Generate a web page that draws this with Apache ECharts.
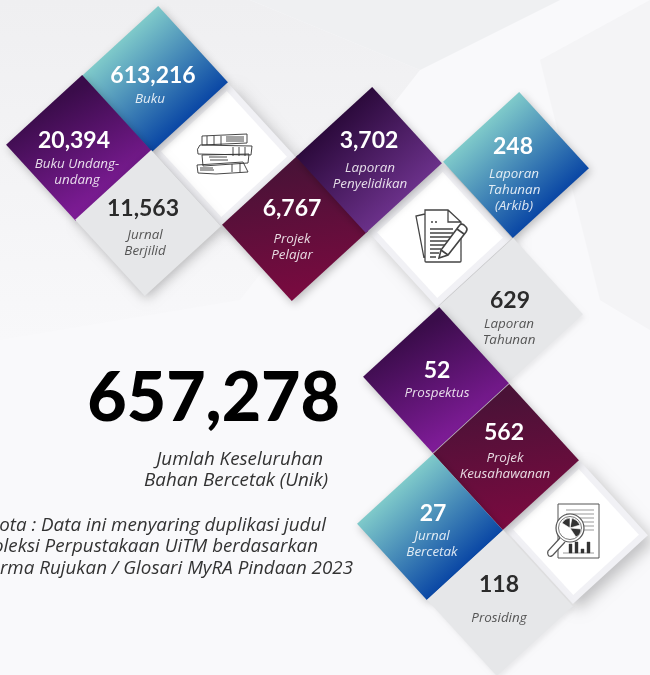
<!DOCTYPE html>
<html>
<head>
<meta charset="utf-8">
<style>
  html, body { margin: 0; padding: 0; background: #f9f9fb; overflow: hidden; }
  #main { width: 650px; height: 675px; }
</style>
<script src="https://cdn.jsdelivr.net/npm/echarts@6/dist/echarts.min.js"></script>
</head>
<body>
<div id="main"></div>
<script>
// data
const categories = ["Buku", "Buku Undang-\nundang", "Jurnal\nBerjilid", "Projek\nPelajar", "Laporan\nPenyelidikan",
  "Laporan\nTahunan\n(Arkib)", "Laporan\nTahunan", "Prospektus", "Projek\nKeusahawanan", "Jurnal\nBercetak", "Prosiding"];
const values = [613216, 20394, 11563, 6767, 3702, 248, 629, 52, 562, 27, 118];
const totalValue = 657278;
const totalLabel = ["Jumlah Keseluruhan", "Bahan Bercetak (Unik)"];
const noteLines = ["Nota : Data ini menyaring duplikasi judul", "Koleksi Perpustakaan UiTM berdasarkan", "Norma Rujukan / Glosari MyRA Pindaan 2023"];

// layout, same order as categories
const centers = [[155,79],[79,148],[148,223],[295,228],[369,160],[516,165],[510,311],[436,380],[506,457],[430,527],[500,603]];
const numberPos = [[153,76],[74,141],[143,209],[292,209],[369,141],[513,147],[510,301],[437,371],[504,433],[433,514],[499,585]];
const namePos = [[150,99],[77,172],[145,243],[292,247],[370,176],[514,190],[509,332],[437,393],[505,466],[432,544],[499,618]];
const kinds = ["blue","purple","grey","wine","violet","blue","grey","purple","wine","blue","grey"];
const whiteCenters = [[224,154],[440,235],[576,532]];

const fills = {
  blue: [0.25, 0.25, 0.75, 0.75, "#7fcaca", "#0a47a5"],
  purple: [0.3, 0.2, 0.7, 0.85, "#3a0c4a", "#7f1c98"],
  violet: [0.25, 0.25, 0.75, 0.75, "#2c0a3c", "#6a3089"],
  wine: [0.4, 0.1, 0.6, 1, "#4a1237", "#7c0a40"],
};

function gradient(kind) {
  if (kind === "grey") return "#e6e7e9";
  const c = fills[kind];
  return new echarts.graphic.LinearGradient(c[0], c[1], c[2], c[3], [
    { offset: 0, color: c[4] }, { offset: 1, color: c[5] },
  ]);
}

// line icons, one per white tile, drawn relative to the tile centre
const icons = [
  [
    { type: "path", shape: { pathData: "M-22 -18 L23 -20 L23 -11 L-22 -9 Z M-24 -9 L28 -8 L27 1 L-26 0 Q-28 -5 -24 -9 Z M-22 1 L25 0 L24 9 L-21 12 Z M-27 11 L19 8 L24 18 L-8 20 L-26 19 Z M-17 -18 V-9 M-10 -18 V-9 M-3 -18 V-9 M9 -7 V2 M15 -7 V2 M21 -7 V2 M8 10 V18 M16 9 V18 M2 -17 H20 M2 -15 H20 M2 -13 H20 M-24 14 H-11 M-24 16 H-10 M-15 3 H3 M-14 6 H4" },
      style: { fill: null, stroke: "#333", lineWidth: 0.9 } },
  ],
  [
    { type: "path", shape: { pathData: "M-15 -25 H8 L21 -13 V26 Q21 27 20 27 H-14 Q-15 27 -15 26 Z M8 -25 V-13 H21 M-15 -21 L-24 -19 L-16 23 M-9 -13 H-7 M-5 -13 H-3 M-10 -6 H13 M-10 -2 H13 M-10 2 H13 M-10 6 H9 M-10 10 H5 M-10 14 H1 M-10 18 H-1 M-10 22 H-4" },
      style: { fill: null, stroke: "#444", lineWidth: 1.3 } },
    { type: "path", shape: { pathData: "M-1 23 L1 15 L19 -9 Q21 -12 24 -10 L26 -8 Q28 -6 26 -3 L8 20 Z M17 -6 L24 -1 M1 15 L8 20" },
      style: { fill: "#fff", stroke: "#444", lineWidth: 1.6 } },
  ],
  [
    { type: "rect", shape: { x: -18, y: -28, width: 41, height: 54 }, style: { fill: "#fff", stroke: "#555", lineWidth: 1 } },
    { type: "path", shape: { pathData: "M-10 -22 H18 M-10 -18 H18 M4 -14 H18 M6 -10 H18 M8 -6 H18 M8 -2 H18 M-13 21 H18" }, style: { fill: null, stroke: "#999", lineWidth: 1 } },
    { type: "circle", shape: { cx: -6, cy: -4, r: 14 }, style: { fill: "#fff", stroke: "#555", lineWidth: 1.2 } },
    { type: "circle", shape: { cx: -6, cy: -4, r: 11.5 }, style: { fill: "#fff", stroke: "#555", lineWidth: 0.8 } },
    { type: "path", shape: { pathData: "M-6 -4 L-14 -9 Q-11 -14 -6 -14 Z M-6 -4 L-4 -14 Q2 -12 4 -7 Z M-6 -4 L5 -3 Q5 3 0 5 Z" }, style: { fill: "#333", stroke: "#fff", lineWidth: 0.6 } },
    { type: "path", shape: { pathData: "M-16 6 L-28 19 Q-29 22 -27 24 Q-25 25 -23 23 L-11 10" }, style: { fill: "#fff", stroke: "#555", lineWidth: 1.2 } },
    { type: "path", shape: { pathData: "M-7 12 H-4 V21 H-7 Z M-1 10 H2 V21 H-1 Z M5 17 H8 V21 H5 Z M11 10 H14 V21 H11 Z" }, style: { fill: "#333", stroke: "#333", lineWidth: 0.4 } },
  ],
];

const numberFont = "Lato";
const textFont = "Open Sans";
const chart = echarts.init(document.getElementById("main"));

function noteText(str, x, y) {
  return { type: "text", z: 20, x: x, y: y, style: { text: str, font: "italic 18.8px '" + textFont + "'", fill: "#333", textAlign: "right", textVerticalAlign: "middle" } };
}

const facetFill = new echarts.graphic.LinearGradient(0, 0, 0, 1, [
  { offset: 0, color: "#efeff1" }, { offset: 1, color: "#f8f8fa" },
]);

chart.setOption({
  animation: false,
  backgroundColor: "#f9f9fb",
  grid: { left: 0, right: 0, top: 0, bottom: 0 },
  xAxis: { type: "value", min: 0, max: 650, show: false },
  yAxis: { type: "value", min: 0, max: 675, inverse: true, show: false },
  graphic: [
    // faint background facets
    { type: "polygon", z: -1, shape: { points: [[0,0],[250,0],[420,70],[240,300],[0,340]] }, style: { fill: facetFill }, silent: true },
    { type: "polygon", z: -1, shape: { points: [[250,0],[560,0],[420,70]] }, style: { fill: "#eff0f2" }, silent: true },
    { type: "polygon", z: -1, shape: { points: [[540,60],[650,0],[650,330],[600,300]] }, style: { fill: "#f4f4f6" }, silent: true },

    // big total and notes
    { type: "text", z: 20, x: 340, y: 399, style: { text: totalValue.toLocaleString("en-US"), font: "900 68px " + numberFont, fill: "#000", textAlign: "right", textVerticalAlign: "middle" } },
    noteText(totalLabel[0], 323, 460),
    noteText(totalLabel[1], 328, 481),
    noteText(noteLines[0], 326, 526),
    noteText(noteLines[1], 318, 547),
    noteText(noteLines[2], 353, 569),
  ],
  series: [
    // white icon tiles
    {
      type: "scatter", symbol: "diamond", symbolSize: 144, symbolRotate: -2.5, silent: true, z: 2,
      itemStyle: { color: "#f1f1f5", opacity: 1, shadowBlur: 14, shadowColor: "rgba(0,0,0,0.22)", shadowOffsetX: 6, shadowOffsetY: 6 },
      data: whiteCenters,
    },
    {
      type: "scatter", symbol: "diamond", symbolSize: 126, symbolRotate: -2.5, silent: true, z: 3,
      itemStyle: { color: "#ffffff", opacity: 1 },
      data: whiteCenters,
    },
    // one tile per category
    {
      type: "scatter", symbol: "diamond", symbolSize: 146, symbolRotate: -2.5, silent: true, z: 4,
      data: values.map((v, i) => ({
        value: centers[i],
        itemStyle: {
          color: gradient(kinds[i]), opacity: 1,
          shadowBlur: kinds[i] === "grey" ? (i === 2 ? 12 : 4) : 8,
          shadowColor: kinds[i] === "grey" && i !== 2 ? "rgba(0,0,0,0.06)" : "rgba(0,0,0,0.25)",
          shadowOffsetX: 2, shadowOffsetY: 3,
        },
      })),
    },
    // icons
    {
      type: "custom", coordinateSystem: "cartesian2d", silent: true, z: 8,
      data: whiteCenters,
      renderItem(params, api) {
        const p = api.coord([api.value(0), api.value(1)]);
        return { type: "group", x: p[0], y: p[1], children: icons[params.dataIndex] };
      },
    },
    // numbers
    {
      type: "scatter", symbolSize: 0, silent: true, z: 10,
      itemStyle: { opacity: 1 },
      data: values.map((v, i) => ({
        value: numberPos[i],
        label: {
          show: true, position: "inside", formatter: v.toLocaleString("en-US"),
          fontFamily: numberFont, fontWeight: 700, fontSize: 23,
          color: kinds[i] === "grey" ? "#2b2b2b" : "#ffffff",
        },
      })),
    },
    // names
    {
      type: "scatter", symbolSize: 0, silent: true, z: 10,
      itemStyle: { opacity: 1 },
      data: categories.map((c, i) => ({
        value: namePos[i],
        label: {
          show: true, position: "inside", formatter: c,
          fontFamily: textFont, fontStyle: "italic", fontSize: 13.4, lineHeight: 16, align: "center",
          color: kinds[i] === "grey" ? "#555555" : "rgba(255,255,255,0.85)",
        },
      })),
    },
  ],
});
</script>
</body>
</html>
